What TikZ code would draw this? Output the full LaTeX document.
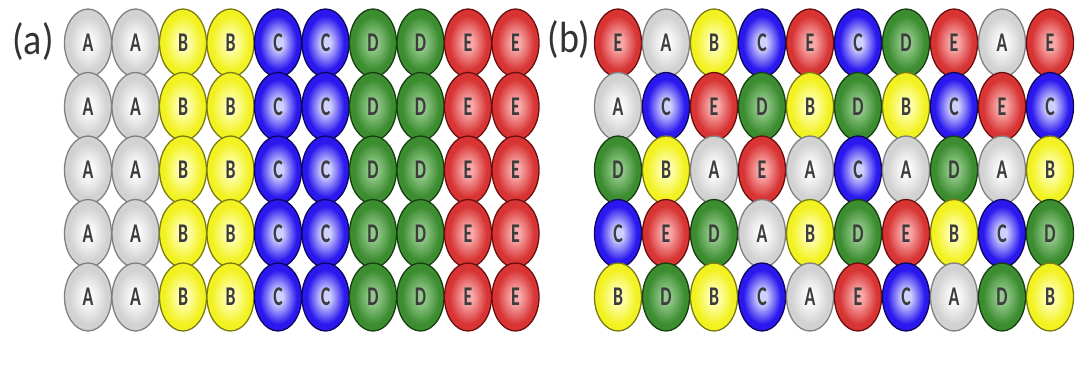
\documentclass[tikz,border=0pt]{standalone}
\usepackage{fontspec}
\setmainfont{Carlito}
\usetikzlibrary{shapes.geometric}
\colorlet{ic}{white}
\colorlet{oc}{gray}
\colorlet{rc}{black}
\pgfdeclareradialshading[ic,oc,rc]{ballsh}{\pgfpoint{0bp}{0bp}}{color(0bp)=(ic); color(5bp)=(ic); color(20bp)=(oc); color(38bp)=(oc); color(50bp)=(rc)}
\definecolor{grayI}{HTML}{FAFAFA}\definecolor{grayO}{HTML}{D2D2D2}\definecolor{grayR}{HTML}{A8A8A8}\definecolor{grayD}{HTML}{808080}
\definecolor{yelI}{HTML}{FFFFB0}\definecolor{yelO}{HTML}{F2F222}\definecolor{yelR}{HTML}{C8C800}\definecolor{yelD}{HTML}{7A7A10}
\definecolor{bluI}{HTML}{D0D0FF}\definecolor{bluO}{HTML}{2A18EE}\definecolor{bluR}{HTML}{1408B0}\definecolor{bluD}{HTML}{0C0660}
\definecolor{grnI}{HTML}{90C888}\definecolor{grnO}{HTML}{3C8C30}\definecolor{grnR}{HTML}{2A6A20}\definecolor{grnD}{HTML}{173F12}
\definecolor{redI}{HTML}{F8A8A8}\definecolor{redO}{HTML}{D83434}\definecolor{redR}{HTML}{B01E1E}\definecolor{redD}{HTML}{6A0E0E}
\definecolor{lettc}{HTML}{3C3C3C}
\newcommand{\balltext}[1]{\scalebox{0.66}[1]{\fontsize{27}{27}\selectfont\bfseries #1}}
\tikzset{
  ballnode/.style={ellipse, minimum width=47pt, minimum height=68pt, inner sep=0pt, line width=1.3pt, shading=ballsh, text=lettc},
  ballA/.style={draw=grayD, /utils/exec={\colorlet{ic}{grayI}\colorlet{oc}{grayO}\colorlet{rc}{grayR}}},
  ballB/.style={draw=yelD, /utils/exec={\colorlet{ic}{yelI}\colorlet{oc}{yelO}\colorlet{rc}{yelR}}},
  ballC/.style={draw=bluD, /utils/exec={\colorlet{ic}{bluI}\colorlet{oc}{bluO}\colorlet{rc}{bluR}}},
  ballD/.style={draw=grnD, /utils/exec={\colorlet{ic}{grnI}\colorlet{oc}{grnO}\colorlet{rc}{grnR}}},
  ballE/.style={draw=redD, /utils/exec={\colorlet{ic}{redI}\colorlet{oc}{redO}\colorlet{rc}{redR}}},
  panellabel/.style={font=\fontsize{38}{38}\selectfont, text=black!80, inner sep=0pt, yscale=1.15}
}
\begin{document}
\begin{tikzpicture}[x=1pt,y=-1pt]
\useasboundingbox (0,0) rectangle (1083,369);
\node[panellabel] (la) at (33,42) {(a)};
\node[panellabel] (lb) at (569,40) {(b)};
\foreach \r in {1,...,5}{
  \foreach \l [count=\c] in {A,A,B,B,C,C,D,D,E,E}{
    \node[ballnode, ball\l] (a-\r-\c) at ({88+47.5*(\c-1)},{43+63.5*(\r-1)}) {\balltext{\l}};
  }
}
\foreach \r/\row in {1/{E,A,B,C,E,C,D,E,A,E},2/{A,C,E,D,B,D,B,C,E,C},3/{D,B,A,E,A,C,A,D,A,B},4/{C,E,D,A,B,D,E,B,C,D},5/{B,D,B,C,A,E,C,A,D,B}}{
  \foreach \l [count=\c] in \row{
    \node[ballnode, ball\l] (b-\r-\c) at ({618+48*(\c-1)},{43+63.5*(\r-1)}) {\balltext{\l}};
  }
}
\end{tikzpicture}
\end{document}
